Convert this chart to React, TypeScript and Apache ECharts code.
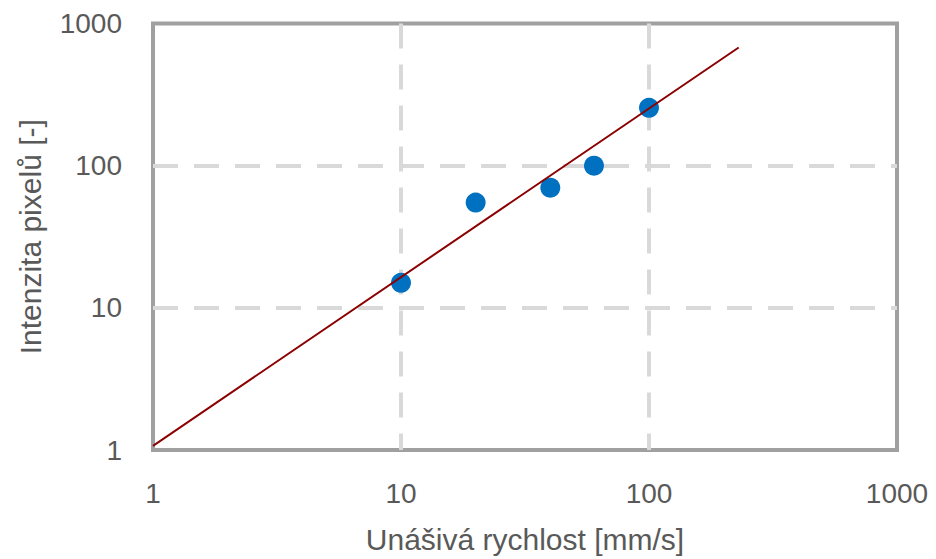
import React, { useEffect, useRef } from "react";
import * as echarts from "echarts";

const speeds = [10, 20, 40, 60, 100];
const intensities = [15, 55, 70, 100, 255];
const trendStart = [1, 1.07];
const trendEnd = [230, 678];
const xTitle = "Unášivá rychlost [mm/s]";
const yTitle = "Intenzita pixelů [-]";

const FONT = "Liberation Sans";
const TEXT = "#595959";

export default function App() {
  const ref = useRef<HTMLDivElement>(null);
  useEffect(() => {
    if (!ref.current) return;
    const chart = echarts.init(ref.current, undefined, { renderer: "svg" });
    const split = {
      show: true,
      showMinLine: false,
      showMaxLine: false,
      lineStyle: { color: "#d9d9d9", width: 4, type: [25, 16] as any },
    };
    const fmt = (v: number) => String(Math.round(v));
    chart.setOption({
      animation: false,
      backgroundColor: "#ffffff",
      grid: {
        left: 153,
        right: 39,
        top: 23.5,
        bottom: 105,
        show: true,
        borderColor: "#a0a0a0",
        borderWidth: 4,
        backgroundColor: "transparent",
      },
      xAxis: {
        type: "log",
        logBase: 10,
        min: 1,
        max: 1000,
        name: xTitle,
        nameLocation: "middle",
        nameGap: 74,
        nameTextStyle: { fontFamily: FONT, fontSize: 30, color: TEXT },
        axisLine: { show: false },
        axisTick: { show: false },
        axisLabel: { fontFamily: FONT, fontSize: 28, color: TEXT, margin: 29, formatter: fmt },
        splitLine: split,
        minorTick: { show: false },
      },
      yAxis: {
        type: "log",
        logBase: 10,
        min: 1,
        max: 1000,
        name: yTitle,
        nameLocation: "middle",
        nameGap: 108,
        nameRotate: 90,
        nameTextStyle: { fontFamily: FONT, fontSize: 30, color: TEXT },
        axisLine: { show: false },
        axisTick: { show: false },
        axisLabel: { fontFamily: FONT, fontSize: 28, color: TEXT, margin: 31, formatter: fmt },
        splitLine: split,
      },
      series: [
        {
          type: "line",
          data: [trendStart, trendEnd],
          symbol: "none",
          lineStyle: { color: "#8b0000", width: 2 },
          z: 3,
        },
        {
          type: "scatter",
          data: speeds.map((s, i) => [s, intensities[i]]),
          symbol: "circle",
          symbolSize: 20,
          itemStyle: { color: "#0070c0", opacity: 1 },
          z: 2,
        },
      ],
    });
    return () => chart.dispose();
  }, []);
  return (
    <div
      ref={ref}
      style={{ position: "fixed", left: 0, top: 0, width: 936, height: 559 }}
    />
  );
}
